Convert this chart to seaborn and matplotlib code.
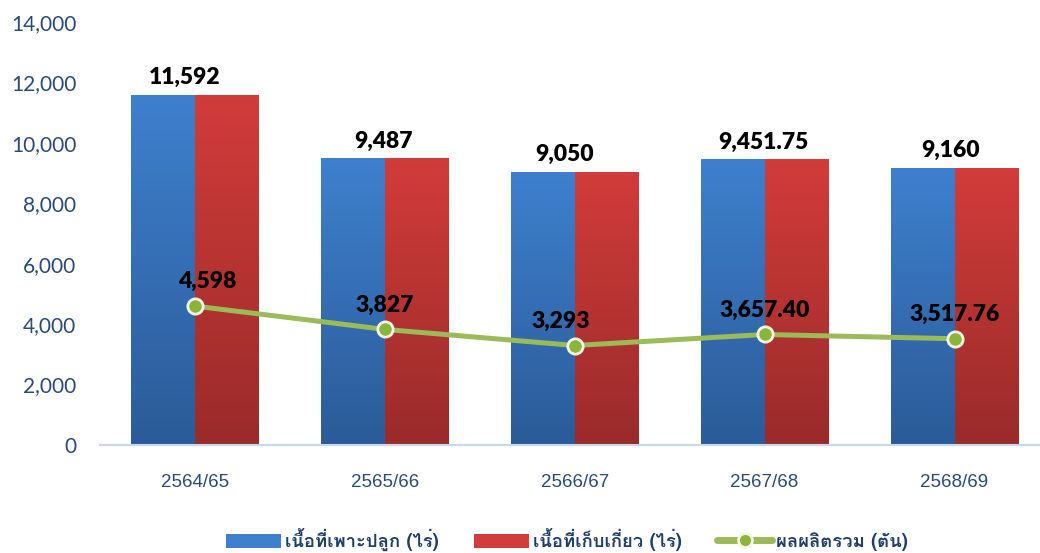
import matplotlib
matplotlib.use("Agg")
import matplotlib.pyplot as plt
import numpy as np
import pandas as pd
import seaborn as sns
from matplotlib.patches import Patch
from matplotlib.lines import Line2D
from matplotlib.colors import to_rgba

# ---- data ----
years = ["2564/65", "2565/66", "2566/67", "2567/68", "2568/69"]
planted = [11592, 9487, 9050, 9451.75, 9160]
harvested = [11592, 9487, 9050, 9451.75, 9160]
production = [4598, 3827, 3293, 3657.40, 3517.76]
series_names = ["เนื้อที่เพาะปลูก (ไร่)", "เนื้อที่เก็บเกี่ยว (ไร่)", "ผลผลิตรวม (ตัน)"]
yticks = [0, 2000, 4000, 6000, 8000, 10000, 12000, 14000]

def fmt(v):
    return f"{v:,.0f}" if float(v).is_integer() else f"{v:,.2f}"

sns.set_theme(style="white")
plt.rcParams["font.family"] = ["Lato", "DejaVu Sans"]

blue_top, blue_bot = "#3E80CE", "#2B5B98"
red_top, red_bot = "#D23C3A", "#992B2A"
green_line, green_mk, mk_edge = "#9BBB59", "#8AB43A", "#F4F4E4"
tick_col = "#2B4A7C"

df = pd.DataFrame({
    "year": years * 2,
    "series": [series_names[0]] * len(years) + [series_names[1]] * len(years),
    "value": planted + harvested,
})

fig = plt.figure(figsize=(10.4, 5.53), dpi=100)
ax = fig.add_axes([0.096, 0.1953, 0.904, 0.7649])

sns.barplot(data=df, x="year", y="value", hue="series",
            palette=[blue_top, red_top], width=0.67, legend=False,
            saturation=1, ax=ax, zorder=2)

# gradient fill on bars
for p in list(ax.patches):
    fc = p.get_facecolor()
    if np.allclose(fc, to_rgba(blue_top)):
        c0, c1 = np.array(to_rgba(blue_top)), np.array(to_rgba(blue_bot))
    else:
        c0, c1 = np.array(to_rgba(red_top)), np.array(to_rgba(red_bot))
    x0, y0 = p.get_x(), p.get_y()
    w, h = p.get_width(), p.get_height()
    t = np.linspace(0, 1, 256)[:, None, None]
    img = c0[None, None, :] * (1 - t) + c1[None, None, :] * t
    im = ax.imshow(img, extent=(x0, x0 + w, y0, y0 + h), aspect="auto",
                   zorder=2.1, interpolation="bilinear")
    im.set_clip_path(p)
    p.set_edgecolor("none")

sns.pointplot(x=years, y=production, color=green_line, markers="o",
              linestyles="-", errorbar=None, ax=ax,
              linewidth=3.6, markersize=11, markerfacecolor=green_mk,
              markeredgecolor=mk_edge, markeredgewidth=2, zorder=5)
for ln in ax.lines:
    ln.set_zorder(5)

# labels
bar_dx = [-7, -1, -7, -1, -3]
line_dx = [9, 0, -10, 0, 0]
for i, v in enumerate(planted):
    ax.annotate(fmt(v), (i, v), xytext=(bar_dx[i], 5), textcoords="offset points",
                ha="center", va="bottom", fontsize=16.5, fontweight="heavy",
                color="black", zorder=6)
for i, v in enumerate(production):
    ax.annotate(fmt(v), (i, v), xytext=(line_dx[i], 10), textcoords="offset points",
                ha="center", va="bottom", fontsize=16.5, fontweight="heavy",
                color="black", zorder=6)

ax.set_ylim(0, 14000)
ax.set_xlim(-0.5, 4.45)
ax.set_yticks(yticks)
ax.set_yticklabels([f"{t:,}" for t in yticks], fontsize=15, color=tick_col)
ax.set_xticks(range(len(years)))
ax.set_xticklabels(years, fontsize=13.5, color=tick_col, family="Liberation Sans")
ax.tick_params(axis="y", length=0, pad=17)
ax.tick_params(axis="x", length=0, pad=21)
ax.set_xlabel("")
ax.set_ylabel("")
for s in ["left", "right", "top"]:
    ax.spines[s].set_visible(False)
ax.spines["bottom"].set_color("#C6D9F0")
ax.spines["bottom"].set_linewidth(1.5)
ax.grid(False)

handles = [
    Patch(facecolor=blue_top, edgecolor="none"),
    Patch(facecolor=red_top, edgecolor="none"),
    Line2D([0], [0], color=green_line, lw=5, marker="o", markersize=10,
           markerfacecolor=green_mk, markeredgecolor=mk_edge, markeredgewidth=2),
]
leg = fig.legend(handles, series_names, loc="center", bbox_to_anchor=(0.545, 0.024),
                 ncol=3, frameon=False, handlelength=3.0, handleheight=0.8,
                 handletextpad=0.2, columnspacing=1.9,
                 prop={"family": ["Loma", "DejaVu Sans"], "size": 13.3, "weight": "bold"})
for t in leg.get_texts():
    t.set_color("#1F3D6E")

fig.savefig("out.png", dpi=100)
